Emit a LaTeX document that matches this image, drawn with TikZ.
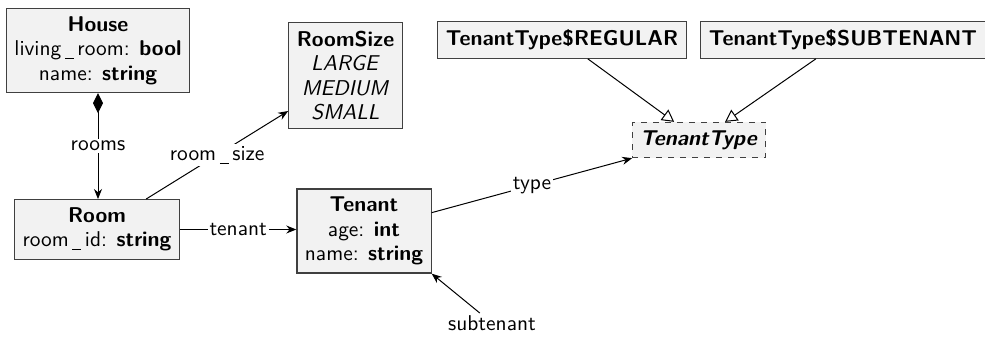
\documentclass[tikz,border=0pt]{standalone}
\usepackage{tikz}
\usetikzlibrary{arrows.meta}

\newcommand{\umlfont}{\sffamily\fontsize{10.7pt}{12.25pt}\selectfont}
\newcommand{\usc}{\,\rule[-1.6pt]{0.42em}{0.45pt}\,}

\tikzset{
  umlclass/.style={draw=black!75, fill=black!5, line width=0.6pt, align=center, inner sep=4pt, font=\umlfont},
  umlabstract/.style={umlclass, dashed},
  assoc/.style={-{Stealth[length=5pt,width=4pt]}, line width=0.5pt},
  compose/.style={{Diamond[length=10pt,width=5pt]}-{Stealth[length=5pt,width=4pt]}, line width=0.5pt},
  inherit/.style={-{Triangle[open,length=6pt,width=6.5pt]}, line width=0.5pt},
  elabel/.style={fill=white, inner sep=1pt, font=\umlfont}
}

\begin{document}
\begin{tikzpicture}[x=0.5pt, y=-0.5pt]
  \useasboundingbox (0,0) rectangle (985,338);
  \node[umlclass] (house) at (98,50.5) {\textbf{House}\\living\usc room: \textbf{bool}\\name: \textbf{string}};
  \node[umlclass] (room) at (97,229.5) {\textbf{Room}\\room\usc id: \textbf{string}};
  \node[umlclass] (roomsize) at (345.5,75.5) {\textbf{RoomSize}\\\textit{LARGE}\\\textit{MEDIUM}\\\textit{SMALL}};
  \node[umlclass] (tenant) at (364,231) {\textbf{Tenant}\\age: \textbf{int}\\name: \textbf{string}};
  \node[umlabstract] (ttype) at (699,140) {\textbf{\textit{TenantType}}};
  \node[umlclass] (ttreg) at (562,40) {\textbf{TenantType\$REGULAR}};
  \node[umlclass] (ttsub) at (843,40) {\textbf{TenantType\$SUBTENANT}};
  \node[elabel] (sublbl) at (492,323) {subtenant};
  \draw[compose] (house.south) -- node[elabel]{rooms} (house.south |- room.north);
  \draw[assoc] (room) -- node[elabel]{room\usc size} (roomsize);
  \draw[assoc] (room.east) -- node[elabel]{tenant} (room.east -| tenant.west);
  \draw[assoc] (tenant) -- node[elabel]{type} (ttype);
  \draw[assoc] (sublbl) -- (tenant.south east);
  \draw[inherit] (ttreg) -- (ttype);
  \draw[inherit] (ttsub) -- (ttype);
\end{tikzpicture}
\end{document}
